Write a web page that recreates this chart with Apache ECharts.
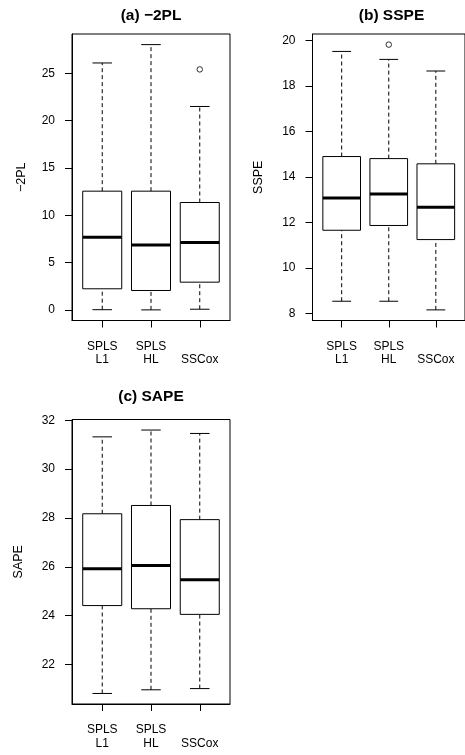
<!DOCTYPE html>
<html>
<head>
<meta charset="utf-8">
<script src="https://cdn.jsdelivr.net/npm/echarts@6/dist/echarts.min.js"></script>
<style>html,body{margin:0;padding:0;background:#fff;}#chart{width:465px;height:755px;}</style>
</head>
<body>
<div id="chart"></div>
<script>
// ---- data ----
const categories = ['SPLS\nL1', 'SPLS\nHL', 'SSCox'];
// each row: [lower whisker, Q1, median, Q3, upper whisker]
const twoPLStats = [
  [0.02, 2.23, 7.67, 12.55, 26.10],
  [0.00, 2.05, 6.86, 12.55, 28.04],
  [0.07, 2.93, 7.11, 11.35, 21.50]
];
const twoPLOutliers = [[3, 25.42]];
const twoPLTicks = [0, 5, 10, 15, 20, 25];

const sspeStats = [
  [8.53, 11.65, 13.07, 14.89, 19.51],
  [8.53, 11.86, 13.24, 14.80, 19.16],
  [8.15, 11.24, 12.66, 14.57, 18.65]
];
const sspeOutliers = [[2, 19.81]];
const sspeTicks = [8, 10, 12, 14, 16, 18, 20];

const sapeStats = [
  [20.81, 24.41, 25.92, 28.17, 31.32],
  [20.96, 24.28, 26.05, 28.51, 31.60],
  [21.01, 24.05, 25.47, 27.93, 31.46]
];
const sapeOutliers = [];
const sapeTicks = [22, 24, 26, 28, 30, 32];

const titles = ['(a) \u22122PL', '(b) SSPE', '(c) SAPE'];
const yNames = ['\u22122PL', 'SSPE', 'SAPE'];

// ---- layout ----
const FONT = '"Liberation Sans", Arial, Helvetica, sans-serif';
const panels = [
  {stats: twoPLStats, out: twoPLOutliers, ticks: twoPLTicks, grid: {left: 72, top: 34, width: 158, height: 286.5}, titleY: 15.5, nameGap: 44},
  {stats: sspeStats, out: sspeOutliers, ticks: sspeTicks, grid: {left: 312.5, top: 34, width: 158, height: 286.5}, titleY: 15.5, nameGap: 47},
  {stats: sapeStats, out: sapeOutliers, ticks: sapeTicks, grid: {left: 72, top: 419.5, width: 158, height: 284.5}, titleY: 397, nameGap: 47}
];

function rangeOf(stats, out) {
  let lo = Infinity, hi = -Infinity;
  stats.forEach(r => { lo = Math.min(lo, r[0]); hi = Math.max(hi, r[4]); });
  out.forEach(o => { lo = Math.min(lo, o[1]); hi = Math.max(hi, o[1]); });
  const e = (hi - lo) * 0.04;
  return [lo - e, hi + e];
}

function renderBox(params, api) {
  const x = api.value(0);
  const lo = api.coord([x, api.value(1)]);
  const q1 = api.coord([x, api.value(2)]);
  const md = api.coord([x, api.value(3)]);
  const q3 = api.coord([x, api.value(4)]);
  const hi = api.coord([x, api.value(5)]);
  const bw = api.size([0.8, 0])[0];
  const cx = lo[0];
  const dash = {stroke: '#000', lineWidth: 1, lineDash: [4, 3]};
  const solid = {stroke: '#000', lineWidth: 1};
  return {
    type: 'group',
    children: [
      {type: 'line', shape: {x1: cx, y1: q3[1], x2: cx, y2: hi[1]}, style: dash},
      {type: 'line', shape: {x1: cx, y1: lo[1], x2: cx, y2: q1[1]}, style: dash},
      {type: 'line', shape: {x1: cx - bw / 4, y1: hi[1], x2: cx + bw / 4, y2: hi[1]}, style: solid},
      {type: 'line', shape: {x1: cx - bw / 4, y1: lo[1], x2: cx + bw / 4, y2: lo[1]}, style: solid},
      {type: 'rect', shape: {x: cx - bw / 2, y: q3[1], width: bw, height: q1[1] - q3[1]}, style: {fill: '#fff', stroke: '#000', lineWidth: 1}},
      {type: 'line', shape: {x1: cx - bw / 2, y1: md[1], x2: cx + bw / 2, y2: md[1]}, style: {stroke: '#000', lineWidth: 3}}
    ]
  };
}

const grids = [], xAxes = [], yAxes = [], series = [], graphics = [];
panels.forEach((p, i) => {
  const g = p.grid;
  grids.push({left: g.left, top: g.top, width: g.width, height: g.height, show: true, borderColor: '#000', borderWidth: 1, backgroundColor: 'transparent', containLabel: false});
  xAxes.push({
    type: 'value', gridIndex: i, min: 0.38, max: 3.62,
    splitLine: {show: false},
    axisLine: {show: true, onZero: false, lineStyle: {color: '#000', width: 1}},
    axisTick: {show: true, customValues: [1, 2, 3], length: 7, inside: false, lineStyle: {color: '#000'}},
    axisLabel: {
      show: true, customValues: [1, 2, 3], margin: 19,
      fontFamily: FONT, fontSize: 12, color: '#000', lineHeight: 13.5,
      formatter: v => { const c = categories[Math.round(v) - 1] || ''; return c.indexOf('\n') < 0 ? '\n' + c : c; }
    }
  });
  const r = rangeOf(p.stats, p.out);
  yAxes.push({
    type: 'value', gridIndex: i, min: r[0], max: r[1],
    name: yNames[i], nameLocation: 'middle', nameGap: p.nameGap,
    nameTextStyle: {fontFamily: FONT, fontSize: 12.5, color: '#000'},
    splitLine: {show: false},
    axisLine: {show: true, onZero: false, lineStyle: {color: '#000', width: 1}},
    axisTick: {show: true, customValues: p.ticks, length: 7, inside: false, lineStyle: {color: '#000'}},
    axisLabel: {show: true, customValues: p.ticks, margin: 17, fontFamily: FONT, fontSize: 12, color: '#000'}
  });
  series.push({
    type: 'custom', xAxisIndex: i, yAxisIndex: i, renderItem: renderBox,
    encode: {x: 0, y: [1, 2, 3, 4, 5]},
    data: p.stats.map((s, k) => [k + 1].concat(s)),
    clip: false, silent: true
  });
  series.push({
    type: 'scatter', xAxisIndex: i, yAxisIndex: i,
    symbol: 'circle', symbolSize: 5.5,
    itemStyle: {color: '#fff', borderColor: '#000', borderWidth: 1},
    data: p.out, silent: true
  });
  graphics.push({
    type: 'text', x: g.left + g.width / 2, y: p.titleY,
    style: {text: titles[i], fontFamily: FONT, fontSize: 15.5, fontWeight: 'bold', fill: '#000', textAlign: 'center', textVerticalAlign: 'middle'}
  });
});

const chart = echarts.init(document.getElementById('chart'), null, {renderer: 'canvas'});
chart.setOption({
  animation: false,
  backgroundColor: '#fff',
  grid: grids, xAxis: xAxes, yAxis: yAxes, series: series,
  graphic: graphics
});
</script>
</body>
</html>
